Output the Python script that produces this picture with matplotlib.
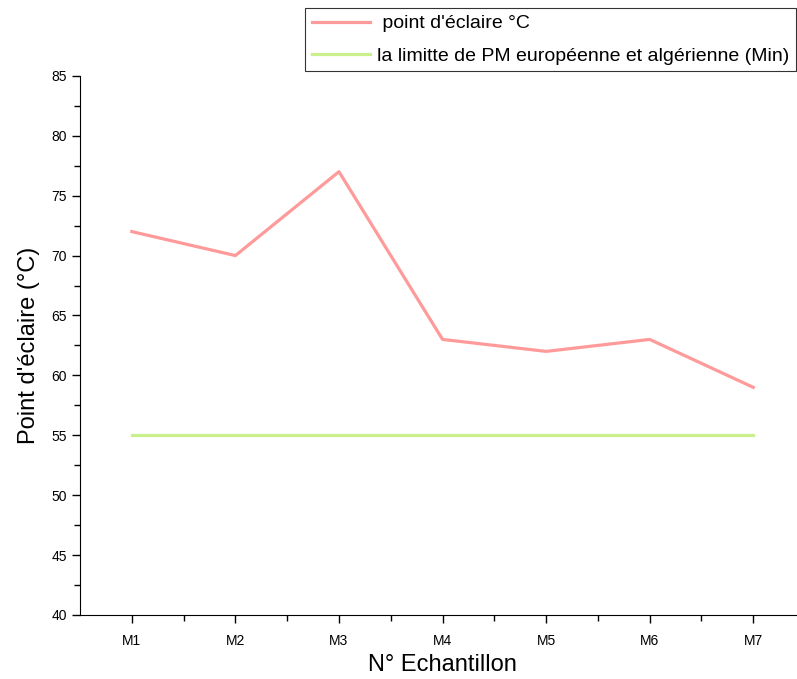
import matplotlib
matplotlib.use("Agg")
from matplotlib import pyplot as plt
from matplotlib.ticker import MultipleLocator

plt.rcParams['font.family'] = ['Liberation Sans', 'DejaVu Sans']

samples = ["M1", "M2", "M3", "M4", "M5", "M6", "M7"]
flash_point = [72, 70, 77, 63, 62, 63, 59]
limit_min = [55, 55, 55, 55, 55, 55, 55]

fig = plt.figure(figsize=(7.97, 6.79), dpi=100)
ax = fig.add_axes([0.1004, 0.0943, 0.9097, 0.794])

x = list(range(1, len(samples) + 1))
l1, = ax.plot(x, flash_point, color="#ff9a9a", lw=2.3, label=" point d'éclaire °C")
l2, = ax.plot(x, limit_min, color="#c9f08a", lw=2.3,
              label="la limitte de PM européenne et algérienne (Min)")

ax.set_xlim(0.5, 7.5)
ax.set_ylim(40, 85)
ax.set_xticks(x)
ax.set_xticklabels(samples)
ax.set_xticks([1.5, 2.5, 3.5, 4.5, 5.5, 6.5], minor=True)
ax.yaxis.set_major_locator(MultipleLocator(5))
ax.yaxis.set_minor_locator(MultipleLocator(2.5))
ax.tick_params(which="both", direction="out", labelsize=10, width=1)
ax.tick_params(which="major", length=6)
ax.tick_params(which="minor", length=4)
ax.tick_params(axis="x", pad=8)

for s in ["top", "right"]:
    ax.spines[s].set_visible(False)

ax.set_xlabel("N° Echantillon", fontsize=17, labelpad=4)
ax.set_ylabel("Point d'éclaire (°C)", fontsize=17, labelpad=8)

leg = fig.legend(handles=[l1, l2], loc="upper left",
                 bbox_to_anchor=(305 / 797, 1 - 8 / 679),
                 fontsize=14, frameon=True, fancybox=False,
                 edgecolor="black", handlelength=3.0, borderaxespad=0,
                 handletextpad=0.35, labelspacing=0.75, borderpad=0.35)
leg.get_frame().set_linewidth(0.8)

fig.savefig("out.png", dpi=100)
